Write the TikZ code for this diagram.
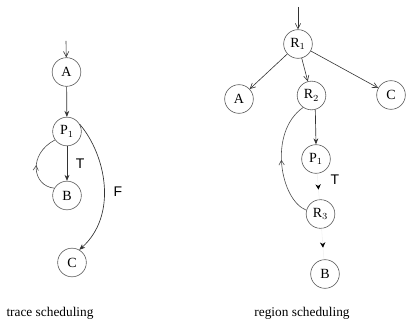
\documentclass[tikz,border=0pt]{standalone}
\usepackage{fontspec}
\setmainfont{Liberation Serif}
\newfontfamily\labelfont{Liberation Sans}
\usetikzlibrary{arrows.meta,decorations.markings}
\begin{document}
\begin{tikzpicture}[x=0.75pt,y=-0.75pt,
  blk/.style={circle,draw=black!65,line width=0.45pt,minimum size=21.5pt,inner sep=0pt,font=\fontsize{10.5}{12}\selectfont},
  fwd/.style={draw=black!80,line width=0.5pt,-{Stealth[length=4.5pt,width=3.6pt]}},
  barb/.style={draw=black!80,line width=0.45pt,-{Straight Barb[length=4pt,width=4pt]}},
  faint/.style={draw=black!6,line width=0.4pt,postaction={decorate},
    decoration={markings,mark=at position 0.62 with {\arrow[black]{Stealth[length=4pt,width=4pt]}}}},
  backarc/.style={draw=black!70,line width=0.45pt,postaction={decorate},
    decoration={markings,mark=at position 0.5 with {\arrow{Straight Barb[length=3.5pt,width=4pt]}}}},
  lbl/.style={font=\labelfont\fontsize{10.5}{12}\selectfont},
  captext/.style={font=\fontsize{10}{12}\selectfont}]
\useasboundingbox (0,0) rectangle (406,323);

% ---- trace scheduling ----
\coordinate (tin) at (66,41);
\node[blk] (tA) at (66.5,72) {A};
\node[blk] (tP) at (67,131.5) {P$_1$};
\node[blk] (tB) at (67,195.5) {B};
\node[blk] (tC) at (72,262.5) {C};
\draw[barb] (tin) -- (tA);
\draw[fwd] (tA) -- (tP);
\draw[fwd] (tP) -- node[lbl,right=3pt,pos=0.5] {T} (tB);
\draw[fwd] (tP.30) .. controls (106,155) and (118,215) .. (tC.60);
\node[lbl] (tF) at (118,192) {F};
\draw[backarc] (tB.150) .. controls (32,186) and (28,154) .. (tP.215);
\node[captext] (tcap) at (50,313) {trace scheduling};

% ---- region scheduling ----
\coordinate (rin) at (298,7);
\node[blk] (R1) at (298,44) {R$_1$};
\node[blk] (rA) at (239,99) {A};
\node[blk] (R2) at (311.5,95.5) {R$_2$};
\node[blk] (rC) at (391,95) {C};
\node[blk] (rP) at (316,159) {P$_1$};
\node[blk] (R3) at (320.5,214) {R$_3$};
\node[blk] (rB) at (325,274) {B};
\draw[barb] (rin) -- (R1);
\draw[barb] (R1) -- (rA);
\draw[barb] (R1) -- (R2);
\draw[barb] (R1) -- (rC);
\draw[fwd] (R2.-75) -- (rP.90);
\draw[faint] (rP) -- (R3);
\draw[faint] (R3) -- (rB);
\node[lbl] (rT) at (335,180) {T};
\draw[backarc] (R3.165) .. controls (280,200) and (268,132) .. (R2.235);
\node[captext] (rcap) at (302,313) {region scheduling};
\end{tikzpicture}
\end{document}
